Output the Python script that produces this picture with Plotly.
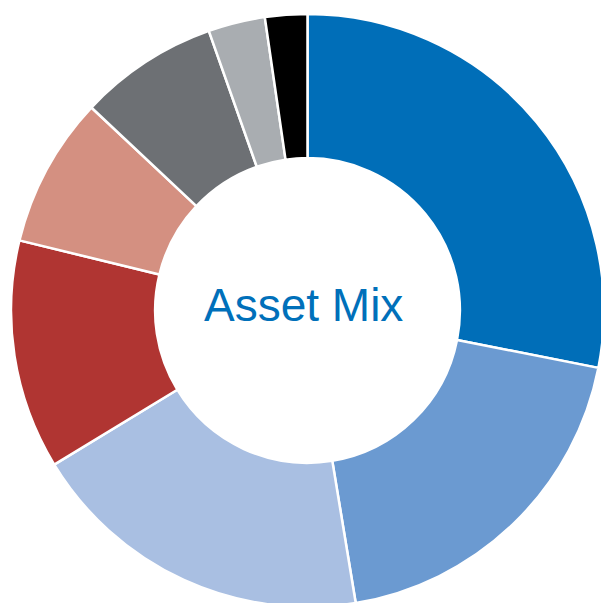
import plotly.graph_objects as go

labels = ["Asset 1", "Asset 2", "Asset 3", "Asset 4", "Asset 5", "Asset 6", "Asset 7", "Asset 8"]
values = [28.1, 19.3, 18.9, 12.5, 8.2, 7.6, 3.1, 2.3]
colors = ["#006EB8", "#6B9AD1", "#A9BFE2", "#B03532", "#D49081", "#6D7074", "#A9ADB1", "#000000"]
center_text = "Asset Mix"

fig = go.Figure(go.Pie(
    labels=labels,
    values=values,
    hole=0.514,
    sort=False,
    direction="clockwise",
    rotation=0,
    textinfo="none",
    hoverinfo="skip",
    marker=dict(colors=colors, line=dict(color="white", width=2.5)),
    showlegend=False,
))
fig.add_annotation(
    text=center_text, x=0.5, y=0.5, xref="paper", yref="paper",
    showarrow=False, xshift=-4, yshift=6,
    font=dict(family="Liberation Sans, Arial, sans-serif", size=46, color="#0070BA"),
)
fig.update_layout(
    width=604, height=607,
    margin=dict(l=11, r=0, t=14, b=0),
    paper_bgcolor="white", plot_bgcolor="white",
)
fig.write_html(
    "out.html",
    config={"displayModeBar": False},
    post_script=(
        "document.body.style.margin='0';"
        "document.documentElement.style.overflow='hidden';"
        "document.body.style.overflow='hidden';"
    ),
)
